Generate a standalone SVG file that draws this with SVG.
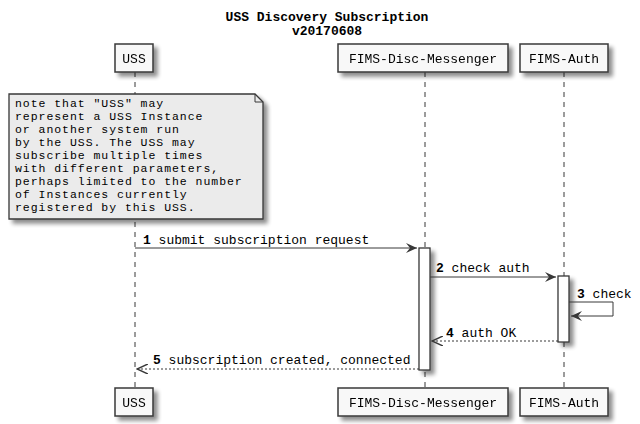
<svg xmlns="http://www.w3.org/2000/svg" width="640" height="424" viewBox="0 0 640 424">
<defs>
<filter id="sh" x="-20%" y="-20%" width="150%" height="150%">
<feGaussianBlur in="SourceAlpha" stdDeviation="2"/>
<feOffset dx="4" dy="4" result="b"/>
<feComponentTransfer><feFuncA type="linear" slope="0.45"/></feComponentTransfer>
<feMerge><feMergeNode/><feMergeNode in="SourceGraphic"/></feMerge>
</filter>
<marker id="ah" viewBox="0 0 12 10" refX="11" refY="5" markerWidth="12" markerHeight="10" markerUnits="userSpaceOnUse" orient="auto">
<path d="M0,0 L11,5 L0,10 L4,5 Z" fill="#383838"/>
</marker>
<marker id="oh" viewBox="0 0 12 10" refX="11" refY="5" markerWidth="12" markerHeight="10" markerUnits="userSpaceOnUse" orient="auto">
<path d="M0,0 L11,5 L0,10" fill="none" stroke="#383838" stroke-width="1.5"/>
</marker>
</defs>
<style>
text{font-family:"Liberation Mono","DejaVu Sans Mono",monospace;font-size:13px;fill:#000}
.t{font-weight:bold;text-anchor:middle}
.b{font-weight:bold}
.n{font-size:11.5px;letter-spacing:0.95px}
.p rect{fill:#F8F8F8;stroke:#383838;stroke-width:1.5}
.p text{text-anchor:middle}
.life{stroke:#383838;stroke-width:1;stroke-dasharray:5,5}
.act{fill:#FFFFFF;stroke:#383838;stroke-width:1.3}
.m{stroke:#383838;stroke-width:1;fill:none}
.d{stroke-dasharray:2,2}
</style>
<text class="t" x="327" y="21">USS Discovery Subscription</text>
<text class="t" x="327" y="35">v20170608</text>
<g id="lifelines">
<line class="life" x1="135" y1="72" x2="135" y2="388"/>
<line class="life" x1="425" y1="72" x2="425" y2="388"/>
<line class="life" x1="564" y1="72" x2="564" y2="388"/>
</g>
<g id="USS" class="p" filter="url(#sh)">
<rect x="115" y="44" width="38" height="28"/><text x="134" y="63">USS</text>
<rect x="115" y="388" width="38" height="28"/><text x="134" y="407">USS</text>
</g>
<g id="FIMS-Disc-Messenger" class="p" filter="url(#sh)">
<rect x="338" y="44" width="170" height="28"/><text x="423" y="63">FIMS-Disc-Messenger</text>
<rect x="338" y="388" width="170" height="28"/><text x="423" y="407">FIMS-Disc-Messenger</text>
</g>
<g id="FIMS-Auth" class="p" filter="url(#sh)">
<rect x="520" y="44" width="88" height="28"/><text x="564" y="63">FIMS-Auth</text>
<rect x="520" y="388" width="88" height="28"/><text x="564" y="407">FIMS-Auth</text>
</g>
<g id="note">
<path d="M9,94 L255,94 L263,102 L263,219 L9,219 Z" fill="#EBEBEB" stroke="#383838" stroke-width="1.3" filter="url(#sh)"/>
<path d="M255,94 L255,102 L263,102" fill="none" stroke="#383838" stroke-width="1"/>
<text class="n" x="15" y="107">note that "USS" may</text>
<text class="n" x="15" y="120">represent a USS Instance</text>
<text class="n" x="15" y="133">or another system run</text>
<text class="n" x="15" y="146">by the USS. The USS may</text>
<text class="n" x="15" y="159">subscribe multiple times</text>
<text class="n" x="15" y="172">with different parameters,</text>
<text class="n" x="15" y="185">perhaps limited to the number</text>
<text class="n" x="15" y="198">of Instances currently</text>
<text class="n" x="15" y="211">registered by this USS.</text>
</g>
<g id="activations" filter="url(#sh)">
<rect class="act" x="419" y="248" width="11" height="122"/>
<rect class="act" x="558" y="276" width="11" height="66"/>
</g>
<g id="connectors">
<line class="m" x1="135" y1="248" x2="417" y2="248" marker-end="url(#ah)"/>
<line class="m" x1="430" y1="277" x2="556" y2="277" marker-end="url(#ah)"/>
<path class="m" d="M569,302 L613,302 L613,316 L571,316" marker-end="url(#ah)"/>
<line class="m d" x1="558" y1="341" x2="432" y2="341" marker-end="url(#oh)"/>
<line class="m d" x1="419" y1="369" x2="137" y2="369" marker-end="url(#oh)"/>
</g>
<g id="labels">
<text x="143" y="244"><tspan class="b">1</tspan> submit subscription request</text>
<text x="436" y="272"><tspan class="b">2</tspan> check auth</text>
<text x="577" y="298"><tspan class="b">3</tspan> check</text>
<text x="446" y="337"><tspan class="b">4</tspan> auth OK</text>
<text x="153" y="364"><tspan class="b">5</tspan> subscription created, connected</text>
</g>
</svg>
